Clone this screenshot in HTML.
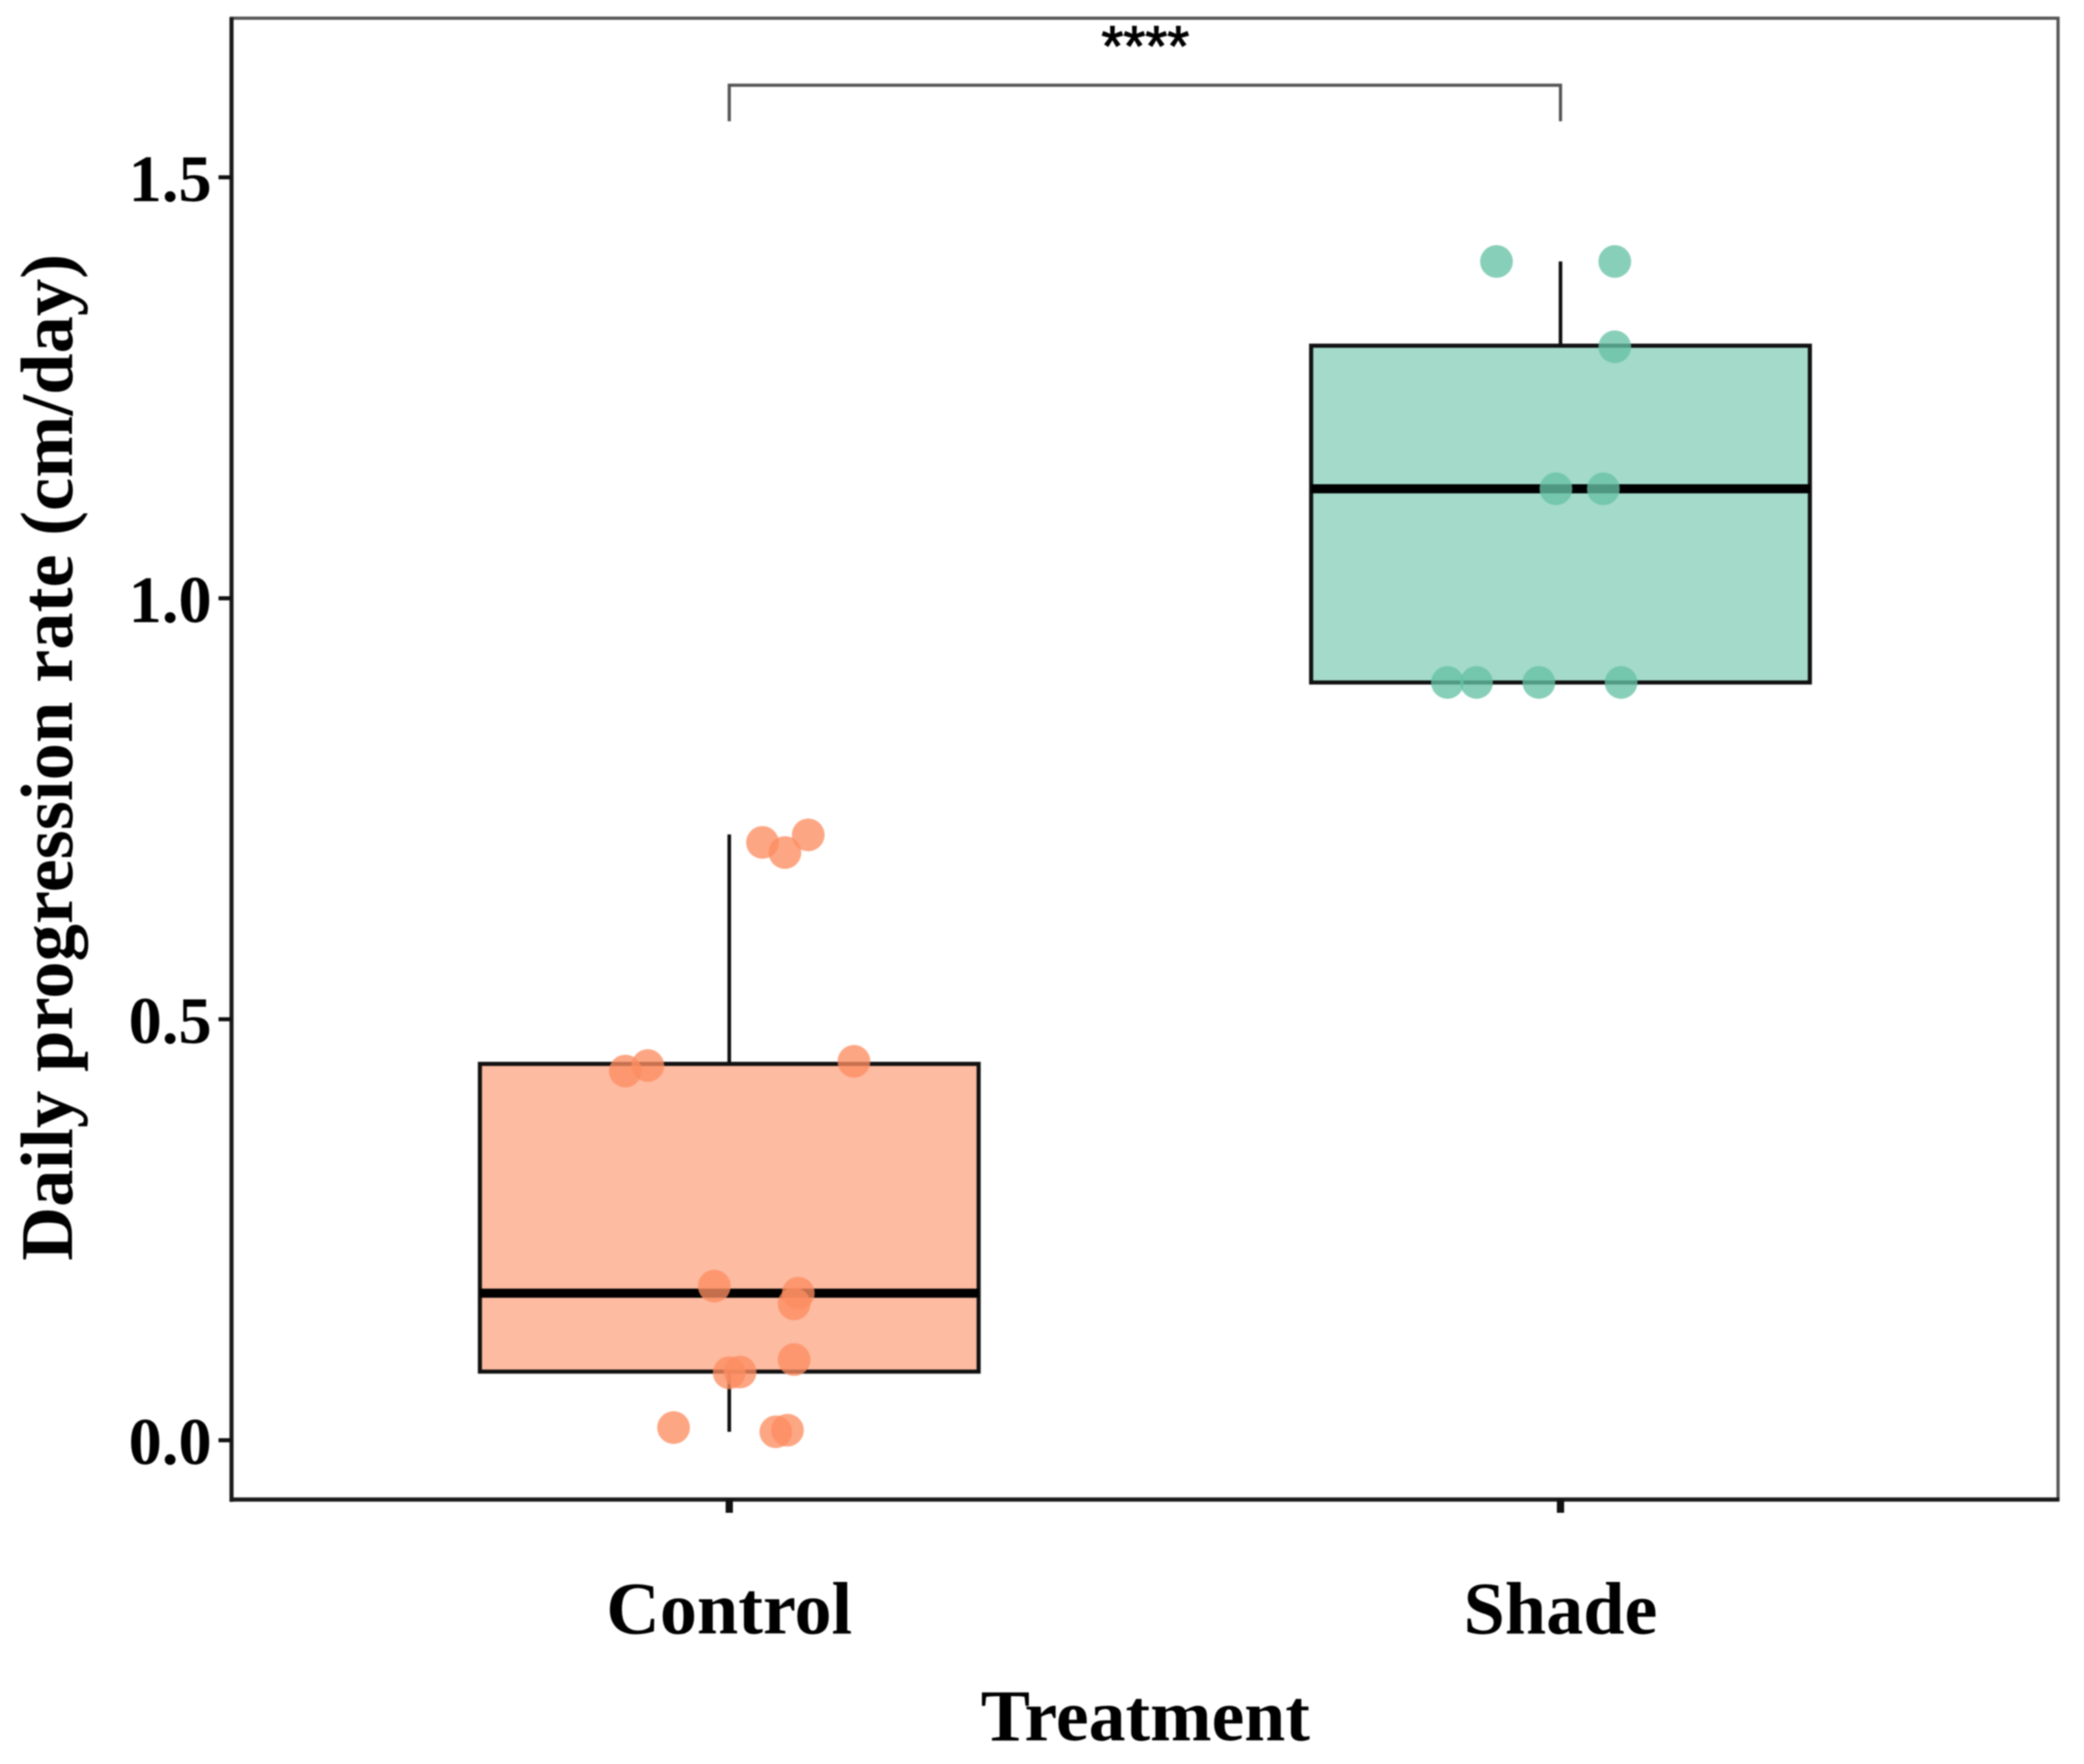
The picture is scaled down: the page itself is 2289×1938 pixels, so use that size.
<!DOCTYPE html>
<html lang="en">
<head>
<meta charset="utf-8">
<title>Daily progression rate by treatment</title>
<style>
html,body{margin:0;padding:0;background:#fff;}
svg{display:block;filter:blur(0.7px);}
text{font-family:"Liberation Serif",serif;font-weight:bold;fill:#000;}
</style>
</head>
<body>
<svg id="chart" xmlns="http://www.w3.org/2000/svg" width="2289" height="1938" viewBox="0 0 2289 1938">
  <rect x="0" y="0" width="2289" height="1938" fill="#fff"/>
  <rect x="254" y="20" width="2006.5" height="1627" fill="none" stroke="#555" stroke-width="3.5"/>
  <g id="marks"></g>
  <line x1="254.3" y1="19" x2="254.3" y2="1650" stroke="#1a1a1a" stroke-width="4.5"/>
  <line x1="252" y1="1647.5" x2="2262" y2="1647.5" stroke="#1a1a1a" stroke-width="4.5"/>
  <g id="axes"></g>
  <g fill="none" stroke="#555" stroke-width="3.5">
    <path id="bracket" d=""/>
  </g>
  <text id="stars" x="1258" y="72" text-anchor="middle" stroke="#000" stroke-width="1.2" style="font-family:'Liberation Sans',sans-serif;font-weight:normal;font-size:62px;">****</text>
  <text transform="translate(79,832) rotate(-90)" text-anchor="middle" font-size="82">Daily progression rate (cm/day)</text>
  <text x="1258" y="1912" text-anchor="middle" font-size="81">Treatment</text>
</svg>
<script>
// Chart data
const categories = ['Control', 'Shade'];
const yTickValues = [0, 0.5, 1.0, 1.5];
const yTickLabels = ['0.0', '0.5', '1.0', '1.5'];
const whiskerLow = [0.01, 0.90];
const quartile1 = [0.0815, 0.90];
const medians = [0.1746, 1.13];
const quartile3 = [0.447, 1.30];
const whiskerHigh = [0.7195, 1.40];
const controlValues = [0.71, 0.698, 0.719, 0.4385, 0.445, 0.45, 0.183, 0.1746, 0.162, 0.0958, 0.08, 0.081, 0.015, 0.01, 0.012];
const controlJitter = [0.040, 0.067, 0.095, -0.125, -0.098, 0.150, -0.018, 0.083, 0.078, 0.078, 0, 0.013, -0.067, 0.056, 0.070];
const shadeValues = [1.40, 1.40, 1.2987, 1.13, 1.13, 0.90, 0.90, 0.90, 0.90];
const shadeJitter = [-0.077, 0.0653, 0.0653, -0.0055, 0.0515, -0.136, -0.101, -0.026, 0.0729];

// Axis functions
function xScale(c) { return 801 + 913 * c; }
function yScale(v) { return 1582.3 - 925 * v; }

const NS = 'http://www.w3.org/2000/svg';
const marks = document.getElementById('marks');
const axes = document.getElementById('axes');
const fillColors = ['#FC8D62', '#66C2A5'];
const seriesValues = [controlValues, shadeValues];
const seriesJitter = [controlJitter, shadeJitter];
const boxHalfWidth = 0.3;

function make(tag, attrs, parent) {
  const el = document.createElementNS(NS, tag);
  for (const k in attrs) el.setAttribute(k, attrs[k]);
  parent.appendChild(el);
  return el;
}

categories.forEach(function (cat, i) {
  const key = cat.toLowerCase();
  const cx = xScale(i);

  const upper = make('line', { x1: cx, x2: cx, y1: yScale(quartile3[i]), y2: yScale(whiskerHigh[i]), stroke: '#111', 'stroke-width': 4 }, marks);
  
  

  const lower = make('line', { x1: cx, x2: cx, y1: yScale(quartile1[i]), y2: yScale(whiskerLow[i]), stroke: '#111', 'stroke-width': 4 }, marks);
  
  

  const box = make('rect', {
    x: xScale(i - boxHalfWidth),
    y: yScale(quartile3[i]),
    width: xScale(i + boxHalfWidth) - xScale(i - boxHalfWidth),
    height: yScale(quartile1[i]) - yScale(quartile3[i]),
    fill: fillColors[i],
    'fill-opacity': 0.6,
    stroke: '#111',
    'stroke-width': 4.5
  }, marks);
  
  

  const med = make('line', {
    x1: xScale(i - boxHalfWidth),
    x2: xScale(i + boxHalfWidth),
    y1: yScale(medians[i]),
    y2: yScale(medians[i]),
    stroke: '#000',
    'stroke-width': 10
  }, marks);
  
  

  seriesValues[i].forEach(function (v, j) {
    const dot = make('circle', {
      cx: xScale(i + seriesJitter[i][j]),
      cy: yScale(v),
      r: 18,
      fill: fillColors[i],
      'fill-opacity': 0.78
    }, marks);
    
    
  });

  const tick = make('line', { x1: cx, x2: cx, y1: 1647, y2: 1662, stroke: '#111', 'stroke-width': 8 }, axes);
  
  

  const label = make('text', { x: cx, y: 1794.5, 'text-anchor': 'middle', 'font-size': 81.5 }, axes);
  label.textContent = cat;
  
  
});

yTickValues.forEach(function (v, i) {
  const tick = make('line', { x1: 240, x2: 254, y1: yScale(v), y2: yScale(v), stroke: '#111', 'stroke-width': 4.5 }, axes);
  
  

  const label = make('text', { x: 232.5, y: yScale(v) + 26, 'text-anchor': 'end', 'font-size': 73 }, axes);
  label.textContent = yTickLabels[i];
  
  
});

const bracketTop = yScale(1.6094);
const bracketFoot = yScale(1.5665);
document.getElementById('bracket').setAttribute('d',
  'M' + xScale(0) + ' ' + bracketFoot + 'V' + bracketTop + 'H' + xScale(1) + 'V' + bracketFoot);
</script>
</body>
</html>
